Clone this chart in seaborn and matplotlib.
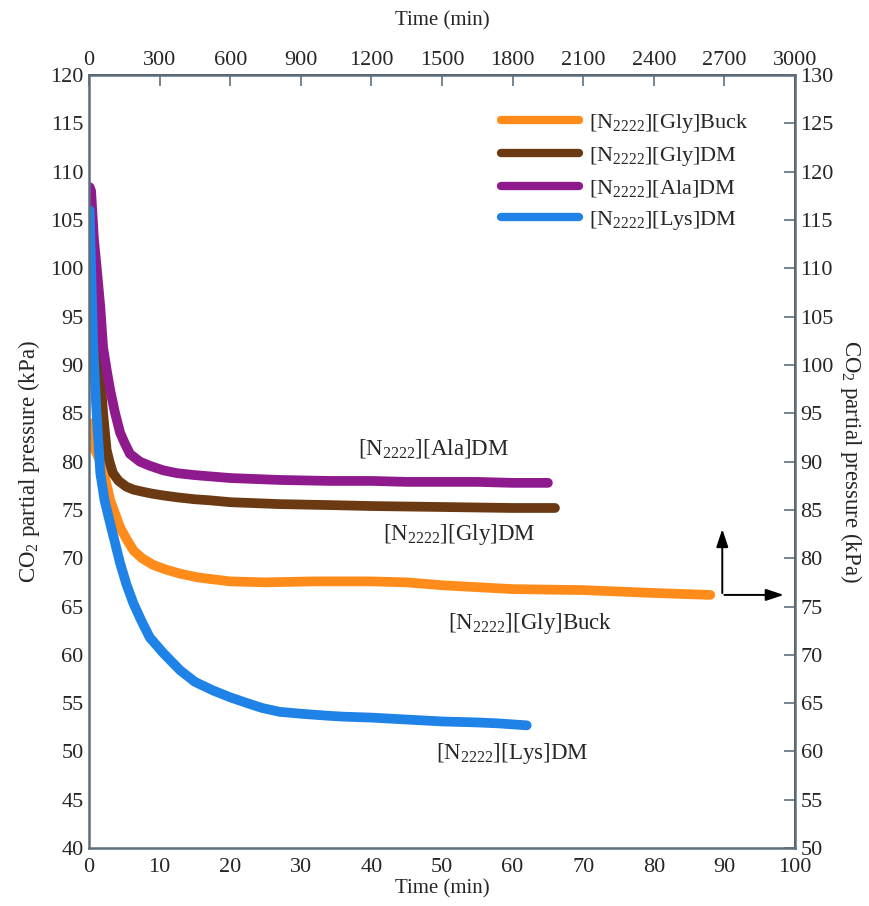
import numpy as np
import pandas as pd
import matplotlib
matplotlib.use("Agg")
import matplotlib.pyplot as plt
import seaborn as sns

sns.set_theme(style="white")
plt.rcParams["font.family"] = ["Liberation Serif", "DejaVu Serif"]
plt.rcParams["mathtext.fontset"] = "custom"
plt.rcParams["mathtext.rm"] = "Liberation Serif"
plt.rcParams["mathtext.default"] = "regular"

# data (time in min, pressure in kPa, left axis)
ala_t = [0.1, 0.3, 0.7, 1.1, 1.6, 2.0, 2.5, 3.0, 3.7, 4.4, 5.0, 5.8, 7.2, 8.5, 10.5, 12.5, 15, 20, 27, 34, 40, 45, 50, 55, 60, 65]
ala_p = [108.4, 108, 103, 100, 96, 91.8, 89.5, 87.4, 85, 83, 82, 80.8, 80, 79.6, 79.1, 78.8, 78.6, 78.3, 78.1, 78.0, 78.0, 77.9, 77.9, 77.9, 77.8, 77.8]

glydm_t = [0.1, 0.3, 0.8, 1.6, 2.0, 2.5, 2.9, 3.4, 4.2, 5.3, 6.3, 7.5, 8.8, 10.5, 12.5, 15, 17, 20, 27, 34, 40, 50, 60, 66]
glydm_p = [104.5, 103.5, 95, 89, 85, 81.2, 80, 78.8, 78, 77.4, 77.1, 76.9, 76.7, 76.5, 76.3, 76.1, 76.0, 75.8, 75.6, 75.5, 75.4, 75.3, 75.2, 75.2]

buck_t = [0.1, 0.4, 1.0, 1.6, 2.2, 2.6, 3.0, 3.7, 4.4, 5.3, 6.3, 7.5, 9.1, 11, 12.9, 15.5, 20, 25, 31.8, 40, 45, 50, 60, 70, 80, 88]
buck_p = [84, 82, 81, 80, 78.5, 77.3, 76, 74.6, 73.2, 72, 70.8, 70, 69.3, 68.8, 68.4, 68.0, 67.6, 67.5, 67.6, 67.6, 67.5, 67.2, 66.8, 66.7, 66.4, 66.2]

lys_t = [0.1, 0.3, 0.6, 1.0, 1.6, 2.2, 3.0, 4.4, 5.3, 6.3, 7.5, 8.6, 10.5, 12.9, 15, 17.6, 20, 22.4, 24.5, 27, 30, 33.7, 36, 40, 45, 50, 55, 58, 62]
lys_p = [106, 100, 92, 86, 78.8, 76, 73.6, 69.5, 67.3, 65.3, 63.4, 61.8, 60.2, 58.4, 57.2, 56.3, 55.6, 55.0, 54.5, 54.1, 53.9, 53.7, 53.6, 53.5, 53.3, 53.1, 53.0, 52.9, 52.7]

names = ["[N$_{2222}$][Gly]Buck", "[N$_{2222}$][Gly]DM", "[N$_{2222}$][Ala]DM", "[N$_{2222}$][Lys]DM"]
colors = ["#FF8C1A", "#6B3A12", "#8E1A8E", "#1E82E6"]
series = [(buck_t, buck_p), (glydm_t, glydm_p), (ala_t, ala_p), (lys_t, lys_p)]

frames = []
for name, (t, p) in zip(names, series):
    frames.append(pd.DataFrame({"time": t, "pressure": p, "IL": name}))
df = pd.concat(frames, ignore_index=True)

spine_col = "#5d6f7d"
fig = plt.figure(figsize=(8.7, 9.06), dpi=100)
ax = fig.add_axes([0.1023, 0.064, 0.8115, 0.853])

sns.lineplot(data=df, x="time", y="pressure", hue="IL", palette=dict(zip(names, colors)),
             estimator=None, sort=False, linewidth=7, ax=ax)

ax.set_xlim(0, 100)
ax.set_ylim(40, 120)
ax.set_xticks(np.arange(0, 101, 10))
ax.set_yticks(np.arange(40, 121, 5))
ax.set_xlabel("Time (min)", fontsize=15, labelpad=2)
ax.set_ylabel("CO$_2$ partial pressure (kPa)", fontsize=16.5, labelpad=6)
ax.tick_params(direction="in", length=8, width=1.2, color=spine_col, labelsize=16, pad=4)
ax.tick_params(axis="x", pad=7)
for s in ax.spines.values():
    s.set_color(spine_col)
    s.set_linewidth(1.8)

top = ax.secondary_xaxis("top", functions=(lambda x: x * 30, lambda x: x / 30))
top.set_xticks(np.arange(0, 3001, 300))
top.set_xlabel("Time (min)", fontsize=15, labelpad=18)
top.tick_params(direction="in", length=8, width=1.2, color=spine_col, labelsize=16, pad=4)

right = ax.secondary_yaxis("right", functions=(lambda y: y + 10, lambda y: y - 10))
right.set_yticks(np.arange(50, 131, 5))
right.set_ylabel("CO$_2$ partial pressure (kPa)", fontsize=16.5, rotation=270, labelpad=22)
right.tick_params(direction="in", length=8, width=1.2, color=spine_col, labelsize=16, pad=4)

handles, labels = ax.get_legend_handles_labels()
for h in handles:
    h.set_linewidth(6)
ax.legend(handles, labels, loc="upper left", bbox_to_anchor=(0.568, 0.967), frameon=False,
          fontsize=16, handlelength=3.5, handletextpad=0.45, labelspacing=0.45, borderpad=0)

# curve labels
ax.text(38.1, 81.4, names[2], fontsize=16.5, va="center")
ax.text(41.6, 72.5, names[1], fontsize=16.5, va="center")
ax.text(50.9, 63.2, names[0], fontsize=16.5, va="center")
ax.text(49.2, 49.8, names[3], fontsize=16.5, va="center")

# arrows pointing to the secondary axes
ax.annotate("", xy=(89.7, 73.3), xytext=(89.7, 66.1),
            arrowprops=dict(arrowstyle="-|>,head_length=0.9,head_width=0.3", color="black", lw=1.4))
ax.annotate("", xy=(98.8, 66.2), xytext=(89.6, 66.2),
            arrowprops=dict(arrowstyle="-|>,head_length=0.9,head_width=0.3", color="black", lw=1.4))

fig.savefig("out.png", dpi=100)
